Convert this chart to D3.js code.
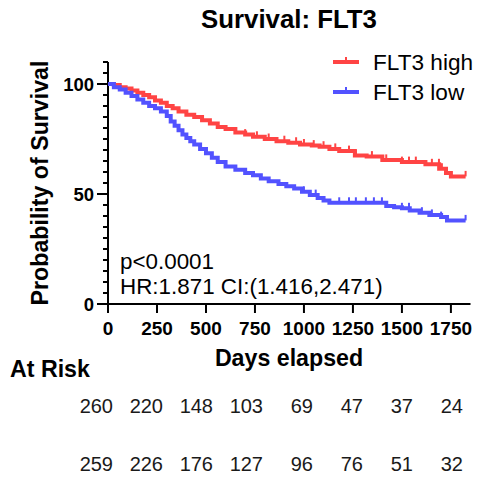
<!DOCTYPE html>
<html>
<head>
<meta charset="utf-8">
<script src="https://cdn.jsdelivr.net/npm/d3@7"></script>
<style>
  body { margin: 0; background: #fff; }
  text { font-family: "Liberation Sans", Arial, sans-serif; }
</style>
</head>
<body>
<svg id="chart"></svg>
<script>
const width = 477;
const height = 478;

// Kaplan-Meier steps (day, % surviving)
const highDays = [0, 30, 60, 90, 120, 150, 180, 210, 240, 270, 300, 330, 360, 400, 440, 480, 520, 560, 600, 650, 700, 740, 800, 860, 920, 980, 1040, 1080, 1130, 1180, 1260, 1320, 1400, 1500, 1620, 1690, 1725, 1750, 1825];
const highSurv = [100, 99.5, 98.5, 98, 97, 96, 95, 94, 92.5, 91.5, 90, 89, 87.5, 86, 85, 83.5, 82, 80.5, 79.5, 78, 77, 76, 75, 74, 73.3, 72.5, 72, 71.5, 70.5, 69.5, 67.5, 67, 65.5, 64.5, 63.5, 61.5, 59.5, 58, 58];
const lowDays = [0, 30, 60, 90, 120, 150, 180, 210, 240, 270, 300, 320, 340, 360, 380, 400, 420, 440, 470, 500, 530, 560, 600, 650, 700, 740, 780, 820, 870, 910, 950, 990, 1030, 1070, 1100, 1130, 1420, 1460, 1500, 1540, 1590, 1640, 1700, 1730, 1825];
const lowSurv = [100, 98.5, 97.5, 96, 94.5, 93, 91.5, 90, 89, 87.5, 85.5, 83, 81, 79, 77, 75.5, 74, 72.5, 70.5, 68.5, 66.5, 64.5, 62.5, 61, 59.5, 58.5, 57, 55.8, 54.5, 53.5, 52.5, 51, 49.5, 48.2, 47, 46, 44.5, 44, 43.5, 42.5, 41.5, 40.5, 39.5, 38, 38];

// censored observations
const highCensor = [700, 760, 820, 900, 960, 1000, 1050, 1100, 1160, 1230, 1265, 1347, 1420, 1500, 1536, 1571, 1653, 1689, 1704, 1825];
const lowCensor = [1000, 1060, 1180, 1230, 1265, 1316, 1357, 1398, 1500, 1536, 1602, 1653, 1700, 1825];

const xTicks = [0, 250, 500, 750, 1000, 1250, 1500, 1750];
const riskHigh = [260, 220, 148, 103, 69, 47, 37, 24];
const riskLow = [259, 226, 176, 127, 96, 76, 51, 32];

const series = [
  { name: "FLT3 high", color: "#ff4444", days: highDays, surv: highSurv, censor: highCensor },
  { name: "FLT3 low", color: "#5252ff", days: lowDays, surv: lowSurv, censor: lowCensor }
];

const svg = d3.select("#chart")
  .attr("width", width)
  .attr("height", height);

const x = d3.scaleLinear().domain([0, 1850]).range([108, 470.5]);
const y = d3.scaleLinear().domain([0, 110]).range([304, 62]);
// la tabla de riesgo no cae exactamente bajo los ticks
const xRisk = d3.scaleLinear().domain([0, 1750]).range([113, 463]);

// titulo
svg.append("text")
  .attr("x", 289).attr("y", 28)
  .attr("text-anchor", "middle")
  .attr("font-size", 25.8).attr("font-weight", "bold")
  .text("Survival: FLT3");

svg.append("text")
  .attr("transform", "translate(48,183) rotate(-90)")
  .attr("text-anchor", "middle")
  .attr("font-size", 23.2).attr("font-weight", "bold")
  .text("Probability of Survival");

// eje y: mayores cada 50, menores cada 5
const yAxis = svg.append("g").attr("transform", `translate(${x(0)},0)`);
yAxis.append("line")
  .attr("y1", y(110)).attr("y2", y(0) + 1)
  .attr("stroke", "#000").attr("stroke-width", 2);
yAxis.selectAll("line.minor")
  .data(d3.range(5, 111, 5).filter(v => v % 50 !== 0))
  .join("line").attr("class", "minor")
  .attr("x1", -5).attr("x2", 0)
  .attr("y1", d => y(d)).attr("y2", d => y(d))
  .attr("stroke", "#000").attr("stroke-width", 2);
yAxis.selectAll("line.major")
  .data([0, 50, 100])
  .join("line").attr("class", "major")
  .attr("x1", -11).attr("x2", 0)
  .attr("y1", d => y(d)).attr("y2", d => y(d))
  .attr("stroke", "#000").attr("stroke-width", 2);
yAxis.selectAll("text")
  .data([0, 50, 100])
  .join("text")
  .attr("x", -14).attr("y", d => y(d))
  .attr("dy", "0.36em")
  .attr("text-anchor", "end")
  .attr("font-size", 18.5).attr("font-weight", "bold")
  .text(d => d);

// eje x
const xAxis = svg.append("g").attr("transform", `translate(0,${y(0)})`);
xAxis.append("line")
  .attr("x1", x(0) - 1).attr("x2", x(1850))
  .attr("stroke", "#000").attr("stroke-width", 2);
xAxis.selectAll("line.tick")
  .data(xTicks)
  .join("line").attr("class", "tick")
  .attr("x1", d => x(d)).attr("x2", d => x(d))
  .attr("y1", 0).attr("y2", 9)
  .attr("stroke", "#000").attr("stroke-width", 2);
xAxis.selectAll("text")
  .data(xTicks)
  .join("text")
  .attr("x", d => x(d)).attr("y", 30.5)
  .attr("text-anchor", "middle")
  .attr("font-size", 19).attr("font-weight", "bold")
  .text(d => d);

svg.append("text")
  .attr("x", 289).attr("y", 366)
  .attr("text-anchor", "middle")
  .attr("font-size", 23.2).attr("font-weight", "bold")
  .text("Days elapsed");

// curvas
const line = d3.line()
  .x(d => x(d[0]))
  .y(d => y(d[1]))
  .curve(d3.curveStepAfter);

const survAt = (s, t) => {
  const i = d3.bisectRight(s.days, t) - 1;
  return s.surv[Math.max(0, i)];
};

const curves = svg.append("g");
series.forEach(s => {
  const pts = s.days.map((d, i) => [d, s.surv[i]]);
  curves.append("path")
    .attr("d", line(pts))
    .attr("fill", "none")
    .attr("stroke", s.color)
    .attr("stroke-width", 4);
  curves.selectAll(null)
    .data(s.censor)
    .join("line")
    .attr("x1", d => x(d)).attr("x2", d => x(d))
    .attr("y1", d => y(survAt(s, d)))
    .attr("y2", d => y(survAt(s, d)) - 5.5)
    .attr("stroke", s.color)
    .attr("stroke-width", 2);
});

// leyenda
const legend = svg.append("g");
series.forEach((s, i) => {
  const ly = 62 + i * 30;
  legend.append("line")
    .attr("x1", 333).attr("x2", 359)
    .attr("y1", ly).attr("y2", ly)
    .attr("stroke", s.color).attr("stroke-width", 4);
  legend.append("line")
    .attr("x1", 346).attr("x2", 346)
    .attr("y1", ly).attr("y2", ly - 5)
    .attr("stroke", s.color).attr("stroke-width", 2);
  legend.append("text")
    .attr("x", 373).attr("y", ly + 8)
    .attr("font-size", 22.6)
    .text(s.name);
});

svg.append("text")
  .attr("x", 120).attr("y", 269)
  .attr("font-size", 22.4)
  .text("p<0.0001");
svg.append("text")
  .attr("x", 120).attr("y", 294)
  .attr("font-size", 22.4)
  .text("HR:1.871 CI:(1.416,2.471)");

// tabla de riesgo
svg.append("text")
  .attr("x", 10).attr("y", 377)
  .attr("font-size", 23.2).attr("font-weight", "bold")
  .text("At Risk");

[riskHigh, riskLow].forEach((row, r) => {
  svg.append("g").selectAll("text")
    .data(row)
    .join("text")
    .attr("x", (d, i) => xRisk(xTicks[i]))
    .attr("y", 413 + r * 58)
    .attr("text-anchor", "end")
    .attr("font-size", 20)
    .attr("fill", "#1a1a1a")
    .text(d => d);
});
</script>
</body>
</html>
